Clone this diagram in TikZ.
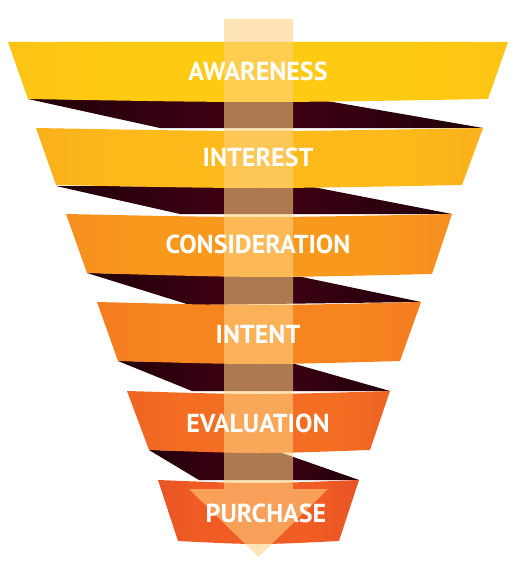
\documentclass[tikz,border=0pt]{standalone}
\usepackage{fontspec}
\setmainfont{PT Sans}
\definecolor{foldred}{HTML}{3C0012}
\definecolor{arrowc}{RGB}{255,210,128}
\definecolor{aL}{HTML}{F8B21D}\definecolor{aM}{HTML}{FFCA12}\definecolor{aR}{HTML}{F9B71C}
\definecolor{bL}{HTML}{F4961F}\definecolor{bM}{HTML}{FDBA1A}\definecolor{bR}{HTML}{F59A20}
\definecolor{cL}{HTML}{F37822}\definecolor{cM}{HTML}{F8981D}\definecolor{cR}{HTML}{F47622}
\definecolor{dL}{HTML}{F26A23}\definecolor{dM}{HTML}{F6841F}\definecolor{dR}{HTML}{F26A22}
\definecolor{eL}{HTML}{E24D27}\definecolor{eM}{HTML}{F36D22}\definecolor{eR}{HTML}{E04A27}
\definecolor{fL}{HTML}{DC4228}\definecolor{fM}{HTML}{EF5C24}\definecolor{fR}{HTML}{D83E27}
\pgfdeclarehorizontalshading{bandA}{100bp}{color(0bp)=(aL); color(35bp)=(aM); color(65bp)=(aM); color(100bp)=(aR)}
\pgfdeclarehorizontalshading{bandB}{100bp}{color(0bp)=(bL); color(35bp)=(bM); color(65bp)=(bM); color(100bp)=(bR)}
\pgfdeclarehorizontalshading{bandC}{100bp}{color(0bp)=(cL); color(35bp)=(cM); color(65bp)=(cM); color(100bp)=(cR)}
\pgfdeclarehorizontalshading{bandD}{100bp}{color(0bp)=(dL); color(35bp)=(dM); color(65bp)=(dM); color(100bp)=(dR)}
\pgfdeclarehorizontalshading{bandE}{100bp}{color(0bp)=(eL); color(35bp)=(eM); color(65bp)=(eM); color(100bp)=(eR)}
\pgfdeclarehorizontalshading{bandF}{100bp}{color(0bp)=(fL); color(35bp)=(fM); color(65bp)=(fM); color(100bp)=(fR)}
\pgfdeclarehorizontalshading{foldshade}{100bp}{color(0bp)=(black); color(45bp)=(foldred); color(55bp)=(foldred); color(100bp)=(black)}
\begin{document}
\begin{tikzpicture}[x=1pt,y=-1pt,
  darkfold/.style={shading=foldshade},
  label/.style={text=white,font=\fontsize{26}{30}\selectfont\bfseries,inner sep=0pt},
  arrowbody/.style={fill=arrowc,fill opacity=0.58}]
\useasboundingbox (0,0) rectangle (517,567);
% folds (back of ribbon)
\path[darkfold] (28,99) -- (327,101) -- (483,128) -- (160,128) -- cycle;
\path[darkfold] (56,186) -- (313,187) -- (452,214) -- (180,214) -- cycle;
\path[darkfold] (87,273) -- (302,277) -- (421,302) -- (190,305) -- cycle;
\path[darkfold] (118,361) -- (295,364) -- (390,391) -- (192,391) -- cycle;
\path[darkfold] (149,450) -- (282,453) -- (359,480) -- (199,480) -- cycle;
% bands
\path[shading=bandA] (8,42) -- (508,42) -- (488,99) .. controls (258,103) .. (28,99) -- cycle;
\path[shading=bandB] (36,128) .. controls (258,132) .. (483,128) -- (462,185) .. controls (258,189) .. (56,185) -- cycle;
\path[shading=bandC] (66,214) .. controls (258,218) .. (452,214) -- (432,274) .. controls (258,278) .. (87,273) -- cycle;
\path[shading=bandD] (97,302) .. controls (258,306) .. (421,302) -- (400,361) .. controls (258,365) .. (118,361) -- cycle;
\path[shading=bandE] (127,391) .. controls (258,395) .. (390,391) -- (370,450) .. controls (258,454) .. (149,450) -- cycle;
\path[shading=bandF] (158,480) .. controls (258,484) .. (359,480) -- (339,541) .. controls (258,545) .. (178,541) -- cycle;
% arrow
\path[arrowbody] (224,19) -- (293,19) -- (293,489) -- (328,489) -- (258.5,557) -- (189,489) -- (224,489) -- cycle;
% labels
\node[label] (awareness) at (258,71) {AWARENESS};
\node[label] (interest) at (258,157) {INTEREST};
\node[label] (consideration) at (258,244) {CONSIDERATION};
\node[label] (intent) at (258,334) {INTENT};
\node[label] (evaluation) at (258,423) {EVALUATION};
\node[label] (purchase) at (266,513) {PURCHASE};
\end{tikzpicture}
\end{document}
